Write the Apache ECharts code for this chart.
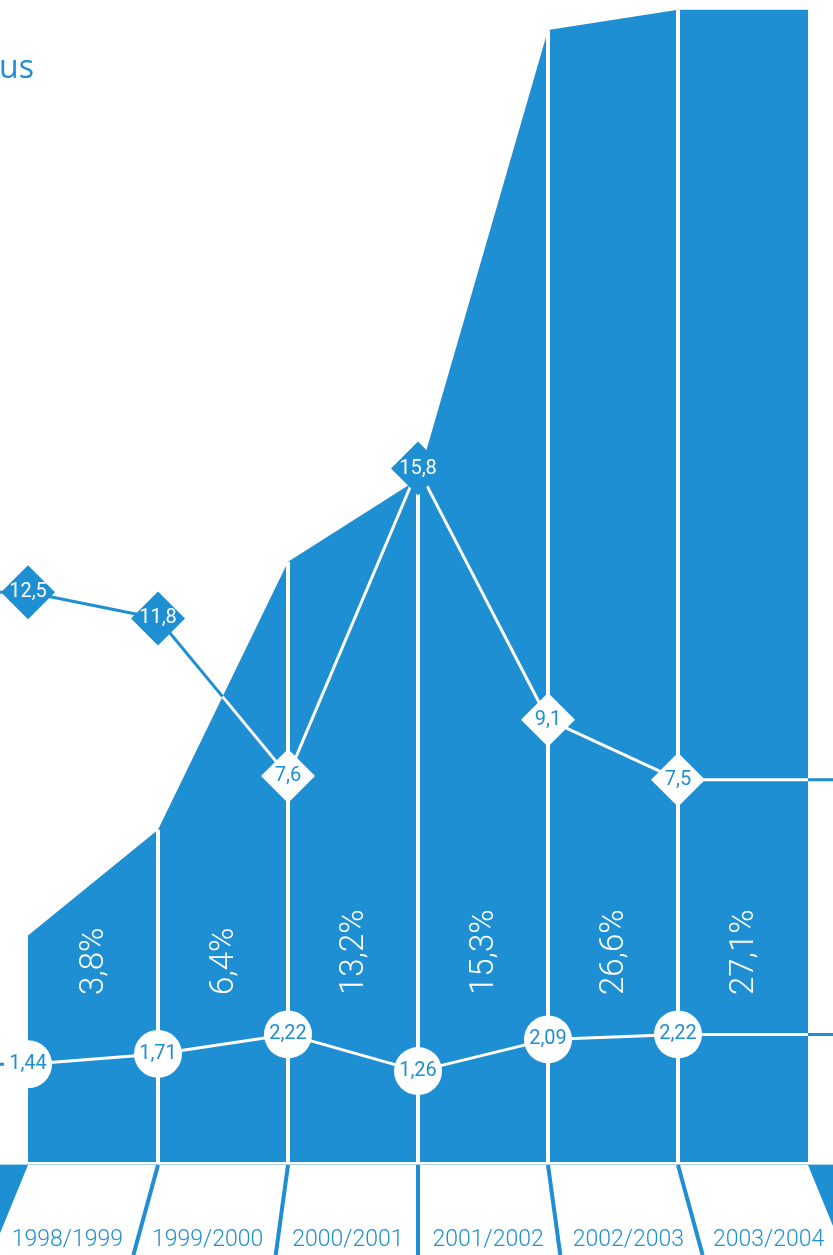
<!DOCTYPE html>
<html>
<head>
<meta charset="utf-8">
<script src="https://cdn.jsdelivr.net/npm/echarts@6/dist/echarts.min.js"></script>
<style>
html, body { margin: 0; padding: 0; background: #fff; }
#chart { width: 833px; height: 1255px; }
</style>
</head>
<body>
<div id="chart"></div>
<script>
// seasons = columns, area values sit on the column edges (7 edges for 6 columns)
const seasons = ['1998/1999', '1999/2000', '2000/2001', '2001/2002', '2002/2003', '2003/2004'];
const shares = [3.8, 6.4, 13.2, 15.3, 26.6, 27.1];
const areaValues = [23.4, 34.3, 62.0, 70.5, 116.9, 119.0, 119.0];
const diamondValues = [12.5, 11.8, 7.6, 15.8, 9.1, 7.5];
const circleValues = [1.44, 1.71, 2.22, 1.26, 2.09, 2.22];

const BLUE = '#1e8fd2';
const LIGHT = '#a9d2ef';
const FONT = 'Roboto, "Open Sans", sans-serif';
const DEPTH = 950; // perspective of the floor under the columns

const chart = echarts.init(document.getElementById('chart'));

const fmt = v => String(v).replace('.', ',');

// pixel positions of the area's top edge, filled after the first render
let areaPx = null;

// cut one segment where it crosses the area's top edge (both are straight inside one column)
function splitSegment(p0, p1, a0, a1) {
  const d0 = p0[1] - a0[1];
  const d1 = p1[1] - a1[1];
  if ((d0 > 0) === (d1 > 0)) return [[p0, p1, d0 > 0]];
  const t = d0 / (d0 - d1);
  const m = [p0[0] + t * (p1[0] - p0[0]), p0[1] + t * (p1[1] - p0[1])];
  return [[p0, m, d0 > 0], [m, p1, d1 > 0]];
}

// connecting line: white over the blue area, blue over the empty page
function strokeSeries(values, yAxisIndex) {
  return {
    type: 'custom',
    yAxisIndex,
    z: 3,
    silent: true,
    data: values.map((v, i) => [i, v]),
    renderItem(params, api) {
      const i = params.dataIndex;
      const last = values.length - 1;
      const cur = api.coord([api.value(0), api.value(1)]);
      const pieces = [];
      if (i === 0) {
        pieces.push([api.coord([-1, values[0]]), cur, false]);
      } else {
        const prev = api.coord([i - 1, values[i - 1]]);
        pieces.push(...(areaPx ? splitSegment(prev, cur, areaPx[i - 1], areaPx[i]) : [[prev, cur, false]]));
      }
      if (i === last) {
        const edge = api.coord([i + 1, values[i]]);
        pieces.push(...(areaPx ? splitSegment(cur, edge, areaPx[i], areaPx[i + 1]) : [[cur, edge, false]]));
        pieces.push([edge, api.coord([i + 3, values[i]]), false]);
      }
      return {
        type: 'group',
        children: pieces.map(([a, b, inside]) => ({
          type: 'line',
          shape: { x1: a[0], y1: a[1], x2: b[0], y2: b[1] },
          style: { stroke: inside ? '#fff' : BLUE, lineWidth: 3 }
        }))
      };
    }
  };
}

function markerSeries(values, yAxisIndex, symbol, size, flags) {
  return {
    type: 'scatter',
    yAxisIndex,
    symbol,
    symbolSize: size,
    z: 5,
    silent: true,
    data: values.map((v, i) => {
      const inside = flags ? flags[i] : true;
      return {
        value: [i, v],
        itemStyle: { color: inside ? '#fff' : BLUE, opacity: 1 },
        label: { color: inside ? BLUE : '#fff' }
      };
    }),
    label: {
      show: true,
      position: 'inside',
      formatter: p => fmt(p.value[1]),
      fontSize: 20,
      fontFamily: FONT,
      fontWeight: 400
    }
  };
}

function buildOption(diamondFlags, circleFlags) {
  return {
    animation: false,
    title: {
      text: 'us',
      left: -6,
      top: 48,
      textStyle: { color: BLUE, fontSize: 32, fontWeight: 'normal', fontFamily: '"Open Sans", sans-serif' }
    },
    grid: { left: 0, right: 0, top: 0, bottom: 93 },
    xAxis: { type: 'value', min: -28 / 130, max: 805 / 130, show: false },
    yAxis: [
      { type: 'value', min: 0, max: 120, show: false },
      { type: 'value', min: -2.7, max: 28.3, show: false },
      { type: 'value', min: -1.12, max: 29.3, show: false }
    ],
    series: [
      {
        type: 'line',
        yAxisIndex: 0,
        data: areaValues.map((v, i) => [i, v]),
        symbol: 'none',
        lineStyle: { width: 0 },
        areaStyle: { color: BLUE, opacity: 1 },
        z: 1,
        silent: true
      },
      // white dividers between the columns
      {
        type: 'custom',
        yAxisIndex: 0,
        z: 2,
        silent: true,
        data: areaValues.map((v, i) => [i, v]).slice(1, -1),
        renderItem(params, api) {
          const top = api.coord([api.value(0), api.value(1)]);
          const bot = api.coord([api.value(0), 0]);
          return {
            type: 'line',
            shape: { x1: top[0], y1: top[1], x2: bot[0], y2: bot[1] },
            style: { stroke: '#fff', lineWidth: 4 }
          };
        }
      },
      // rotated share labels
      {
        type: 'custom',
        yAxisIndex: 0,
        z: 2,
        silent: true,
        data: shares.map((v, i) => [i + 0.5, v]),
        renderItem(params, api) {
          const p = api.coord([api.value(0), 0]);
          return {
            type: 'text',
            x: p[0] + 2,
            y: p[1] - 167,
            rotation: Math.PI / 2,
            style: {
              text: fmt(api.value(1)) + '%',
              fill: '#fff',
              fontSize: 33,
              fontFamily: FONT,
              fontWeight: 300,
              align: 'left',
              verticalAlign: 'middle'
            }
          };
        }
      },
      // floor: light rule, slanted separators, outer wedges
      {
        type: 'custom',
        yAxisIndex: 0,
        z: 1,
        silent: true,
        data: areaValues.map((v, i) => [i, 0]),
        renderItem(params, api) {
          const i = params.dataIndex;
          const n = seasons.length;
          const base = api.coord([i, 0]);
          const mid = api.coord([n / 2, 0])[0];
          const y0 = base[1] + 3;
          const y1 = api.getHeight();
          const xb = base[0] + (base[0] - mid) * (y1 - y0) / DEPTH;
          const children = [];
          if (i === 0) {
            children.push({
              type: 'rect',
              shape: { x: 0, y: base[1] + 2, width: api.getWidth(), height: 1 },
              style: { fill: LIGHT }
            });
          }
          if (i === 0 || i === n) {
            const far = i === 0 ? -200 : api.getWidth() + 200;
            children.push({
              type: 'polygon',
              shape: { points: [[base[0], y0], [xb, y1], [far, y1], [far, y0]] },
              style: { fill: BLUE }
            });
          } else {
            children.push({
              type: 'line',
              shape: { x1: base[0], y1: y0, x2: xb, y2: y1 },
              style: { stroke: BLUE, lineWidth: 4 }
            });
          }
          return { type: 'group', children };
        }
      },
      // season labels on the floor
      {
        type: 'custom',
        yAxisIndex: 0,
        z: 1,
        silent: true,
        data: seasons.map((s, i) => [i + 0.5, 0]),
        renderItem(params, api) {
          const i = params.dataIndex;
          const mid = api.coord([seasons.length / 2, 0])[0];
          const a = api.coord([i, 0]);
          const b = api.coord([i + 1, 0]);
          const y0 = a[1] + 3;
          const y = a[1] + 78;
          const xa = a[0] + (a[0] - mid) * (y - y0) / DEPTH;
          const xb = b[0] + (b[0] - mid) * (y - y0) / DEPTH;
          return {
            type: 'text',
            x: (xa + xb) / 2,
            y,
            style: {
              text: seasons[i],
              fill: BLUE,
              fontSize: 23,
              fontFamily: FONT,
              fontWeight: 300,
              align: 'center',
              verticalAlign: 'middle'
            }
          };
        }
      },
      strokeSeries(diamondValues, 1),
      strokeSeries(circleValues, 2),
      markerSeries(diamondValues, 1, 'diamond', 54, diamondFlags),
      markerSeries(circleValues, 2, 'circle', 48, circleFlags)
    ]
  };
}

chart.setOption(buildOption(null, null));

areaPx = areaValues.map((v, i) => chart.convertToPixel({ seriesIndex: 0 }, [i, v]));

// a marker is "inside" when it sits below the top edge of the area
function insideFlags(values, seriesIndex) {
  return values.map((v, i) => chart.convertToPixel({ seriesIndex }, [i, v])[1] > areaPx[i][1]);
}

chart.setOption(buildOption(insideFlags(diamondValues, 7), insideFlags(circleValues, 8)), true);
</script>
</body>
</html>
